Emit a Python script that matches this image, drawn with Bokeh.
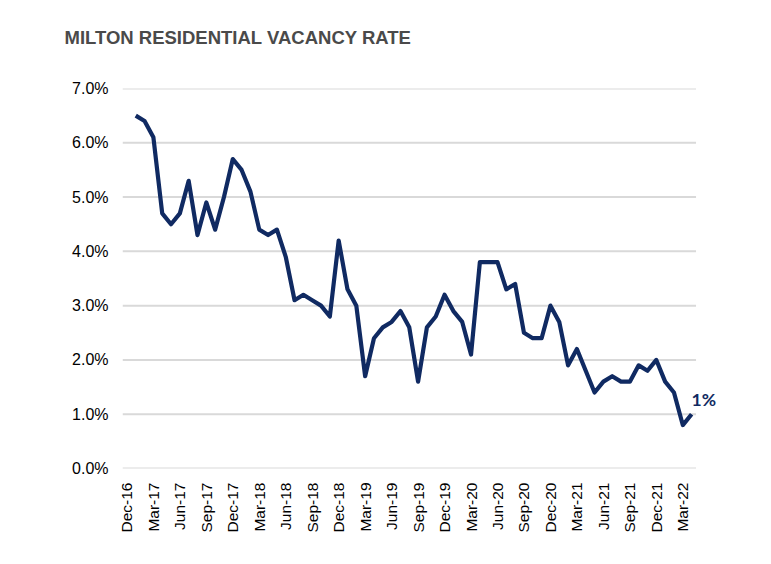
import math
from bokeh.plotting import figure
from bokeh.models import FixedTicker, PrintfTickFormatter, ColumnDataSource, Label, Title
from bokeh.embed import file_html
from bokeh.resources import INLINE

title_text = "MILTON RESIDENTIAL VACANCY RATE"

months = [
    "Dec-16",
    "Jan-17", "Feb-17", "Mar-17", "Apr-17", "May-17", "Jun-17", "Jul-17", "Aug-17", "Sep-17", "Oct-17", "Nov-17", "Dec-17",
    "Jan-18", "Feb-18", "Mar-18", "Apr-18", "May-18", "Jun-18", "Jul-18", "Aug-18", "Sep-18", "Oct-18", "Nov-18", "Dec-18",
    "Jan-19", "Feb-19", "Mar-19", "Apr-19", "May-19", "Jun-19", "Jul-19", "Aug-19", "Sep-19", "Oct-19", "Nov-19", "Dec-19",
    "Jan-20", "Feb-20", "Mar-20", "Apr-20", "May-20", "Jun-20", "Jul-20", "Aug-20", "Sep-20", "Oct-20", "Nov-20", "Dec-20",
    "Jan-21", "Feb-21", "Mar-21", "Apr-21", "May-21", "Jun-21", "Jul-21", "Aug-21", "Sep-21", "Oct-21", "Nov-21", "Dec-21",
    "Jan-22", "Feb-22", "Mar-22", "Apr-22",
]

# vacancy rate (%) ; Dec-16 has no value
vacancy = [
    None,
    6.5, 6.4, 6.1, 4.7, 4.5, 4.7, 5.3, 4.3, 4.9, 4.4, 5.0, 5.7,
    5.5, 5.1, 4.4, 4.3, 4.4, 3.9, 3.1, 3.2, 3.1, 3.0, 2.8, 4.2,
    3.3, 3.0, 1.7, 2.4, 2.6, 2.7, 2.9, 2.6, 1.6, 2.6, 2.8, 3.2,
    2.9, 2.7, 2.1, 3.8, 3.8, 3.8, 3.3, 3.4, 2.5, 2.4, 2.4, 3.0,
    2.7, 1.9, 2.2, 1.8, 1.4, 1.6, 1.7, 1.6, 1.6, 1.9, 1.8, 2.0,
    1.6, 1.4, 0.8, 1.0,
]

tick_labels = ["Dec-16", "Mar-17", "Jun-17", "Sep-17", "Dec-17", "Mar-18", "Jun-18", "Sep-18",
               "Dec-18", "Mar-19", "Jun-19", "Sep-19", "Dec-19", "Mar-20", "Jun-20", "Sep-20",
               "Dec-20", "Mar-21", "Jun-21", "Sep-21", "Dec-21", "Mar-22"]
y_ticks = [0, 1, 2, 3, 4, 5, 6, 7]

xs = [i for i, v in enumerate(vacancy) if v is not None]
ys = [v for v in vacancy if v is not None]
src = ColumnDataSource(dict(x=xs, y=ys))

NAVY = "#102a62"
GRID = "#d9d9d9"

x_lo = -0.5
x_hi = len(months) - 0.5

p = figure(width=763, height=556, output_backend="svg", toolbar_location=None,
           x_range=(x_lo, x_hi + 3.0), y_range=(0, 7),
           min_border_left=122, min_border_right=41, min_border_top=88, min_border_bottom=88)
p.outline_line_color = None
p.background_fill_color = "white"
p.border_fill_color = "white"

# invisible spacer between the frame and the title
p.add_layout(Title(text=" ", text_font="Liberation Sans", text_font_size="18.5px",
                   standoff=16), "above")

p.title.text = title_text
p.title.text_font = "Liberation Sans"
p.title.text_font_style = "bold"
p.title.text_font_size = "18.5px"
p.title.text_color = "#4a4a4a"
p.title.align = "left"
p.title.vertical_align = "top"
p.title.offset = -58
p.title.standoff = 0

# horizontal gridlines spanning only the category area
p.segment(x0=[x_lo] * len(y_ticks), x1=[x_hi] * len(y_ticks), y0=y_ticks, y1=y_ticks,
          line_color=GRID, line_width=2)

p.line("x", "y", source=src, line_color=NAVY, line_width=4.2, line_join="round")

last_label = f"{ys[-1]:.0f}%"
p.add_layout(Label(x=xs[-1], y=ys[-1], text=last_label, x_offset=0, y_offset=4,
                   text_align="left", text_baseline="bottom", text_font_size="17.5px",
                   text_font_style="bold", text_color=NAVY, text_font="Lato"))

# x axis
p.xaxis.ticker = FixedTicker(ticks=[months.index(t) for t in tick_labels])
p.xaxis.major_label_overrides = {months.index(t): t for t in tick_labels}
p.xaxis.major_label_orientation = math.pi / 2
p.xaxis.major_label_text_font = "Liberation Sans"
p.xaxis.major_label_text_font_size = "15.5px"
p.xaxis.major_label_text_color = "#000000"
p.xaxis.major_label_standoff = 8
p.xaxis.major_tick_line_color = None
p.xaxis.minor_tick_line_color = None
p.xaxis.axis_line_color = None

# y axis
p.yaxis.ticker = FixedTicker(ticks=y_ticks)
p.yaxis.formatter = PrintfTickFormatter(format="%.1f%%")
p.yaxis.major_label_text_font = "Liberation Sans"
p.yaxis.major_label_text_font_size = "16px"
p.yaxis.major_label_text_color = "#000000"
p.yaxis.major_label_standoff = 8
p.yaxis.major_tick_line_color = None
p.yaxis.minor_tick_line_color = None
p.yaxis.axis_line_color = None

p.xgrid.grid_line_color = None
p.ygrid.grid_line_color = None

open("out.html", "w").write(file_html(p, INLINE))
